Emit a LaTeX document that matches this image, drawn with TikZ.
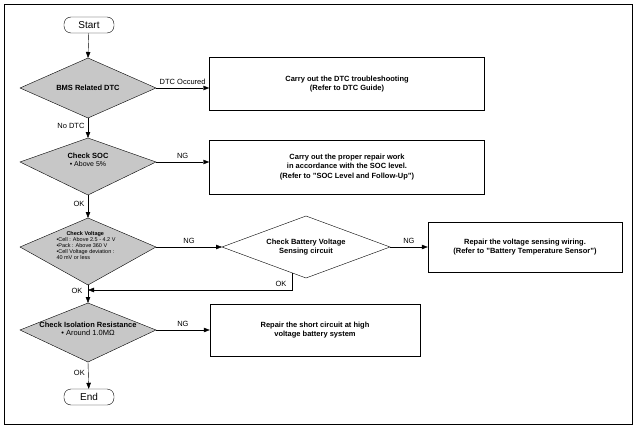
\documentclass[tikz,border=0pt]{standalone}
\usepackage{fontspec}
\setmainfont{Liberation Sans}
\usetikzlibrary{arrows.meta}
\begin{document}
\begin{tikzpicture}[x=1pt,y=-1pt,
  dia/.style={draw,fill=black!22},
  box/.style={draw,fill=white},
  arr/.style={-{Triangle[length=6pt,width=4.5pt]}},
  lab/.style={font=\fontsize{7.5}{8}\selectfont},
  bt/.style={font=\bfseries\fontsize{7.5}{9.5}\selectfont,align=center},
  term/.style={draw,rounded corners=7pt,minimum width=50pt,minimum height=16pt,font=\fontsize{10}{11}\selectfont,inner sep=0pt}]
\useasboundingbox (0,0) rectangle (637,428);
\draw (4,4) rectangle (632,424);
\node[term] (start) at (89,25) {Start};
\draw[dia] (20,88) -- (88,58) -- (156,88) -- (88,118) -- cycle;
\node[bt] (d1) at (88,88) {BMS Related DTC};
\coordinate (d1t) at (88,58); \coordinate (d1r) at (156,88); \coordinate (d1b) at (88,118);
\node[box,minimum width=275pt,minimum height=53pt] (b1) at (347,84) {};
\node[bt] at (b1) {Carry out the DTC troubleshooting\\(Refer to DTC Guide)};
\draw[dia] (20,162) -- (88,138) -- (156,162) -- (88,195) -- cycle;
\node[bt,align=center] at (88,160) {Check SOC\\[-1pt]\mdseries\fontsize{7}{8}\selectfont• Above 5\%};
\coordinate (d2t) at (88,138); \coordinate (d2r) at (156,162); \coordinate (d2b) at (88,195);
\node[box,minimum width=275pt,minimum height=54pt] (b2) at (347,167) {};
\node[bt] at (b2) {Carry out the proper repair work\\in accordance with the SOC level.\\(Refer to "SOC Level and Follow-Up")};
\draw[dia] (20,247) -- (88,218) -- (156,247) -- (88,285) -- cycle;
\node[align=left,font=\fontsize{5.5}{6}\selectfont,inner sep=0pt] at (86,246) {\hspace*{10pt}\textbf{Check Voltage}\\•Cell : Above 2.5 - 4.2 V\\•Pack : Above 360 V\\•Cell Voltage deviation :\\40 mV or less};
\coordinate (d3t) at (88,218); \coordinate (d3r) at (156,247); \coordinate (d3b) at (88,285);
\draw[dia,fill=white] (222,247) -- (306,216) -- (390,247) -- (306,278) -- cycle;
\node[bt] at (306,247) {Check Battery Voltage\\Sensing circuit};
\coordinate (d4l) at (222,247); \coordinate (d4r) at (390,247); \coordinate (d4b) at (292,273);
\node[box,minimum width=194pt,minimum height=50pt] (b3) at (525,247) {};
\node[bt] at (b3) {Repair the voltage sensing wiring.\\(Refer to "Battery Temperature Sensor")};
\draw[dia] (20,330) -- (88,303) -- (156,330) -- (88,362) -- cycle;
\node[bt] at (88,329) {Check Isolation Resistance\\[-1pt]\mdseries• Around 1.0MΩ};
\coordinate (d5t) at (88,303); \coordinate (d5r) at (156,330); \coordinate (d5b) at (88,362);
\node[box,minimum width=210pt,minimum height=52pt] (b4) at (315,330) {};
\node[bt] at (b4) {Repair the short circuit at high\\voltage battery system};
\node[term] (end) at (89,397) {End};
\coordinate (j) at (292,290); \coordinate (m) at (88,290);
\draw[arr] (start) -- (d1t);
\draw[arr] (d1r) -- node[lab,above] {DTC Occured} (b1.west|-d1r);
\draw[arr] (d1b) -- node[lab,left,pos=.4] {No DTC} (d2t);
\draw[arr] (d2r) -- node[lab,above] {NG} (b2.west|-d2r);
\draw[arr] (d2b) -- node[lab,left,pos=.4] {OK} (d3t);
\draw[arr] (d3r) -- node[lab,above] {NG} (d4l);
\draw[arr] (d4r) -- node[lab,above] {NG} (b3.west);
\draw[arr] (d3b) -- (d5t);
\draw[arr] (d4b) -- (j) -- (m);
\node[lab,above left] at (290,290) {OK};
\node[lab,left] at (86,291) {OK};
\draw[arr] (d5b) -- node[lab,left,pos=.4] {OK} (end);
\draw[arr] (d5r) -- node[lab,above] {NG} (b4.west|-d5r);
\end{tikzpicture}
\end{document}
